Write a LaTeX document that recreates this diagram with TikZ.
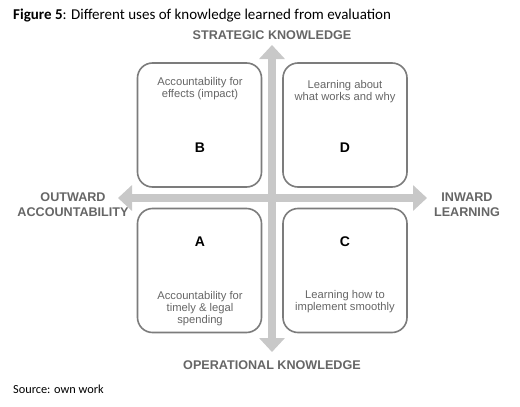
\documentclass[tikz,border=0pt]{standalone}
\usepackage{fontspec}
\setmainfont{Liberation Sans}
\newfontfamily\calibri{Carlito}
\usetikzlibrary{arrows.meta}
\definecolor{axisgray}{HTML}{C8C8C8}
\definecolor{boxgray}{HTML}{7C7C7C}
\definecolor{txtgray}{HTML}{666666}
\tikzset{
  quad/.style={draw=boxgray, line width=1.6pt, rounded corners=15pt, minimum width=124pt, minimum height=124pt, inner sep=0pt},
  axis/.style={axisgray, line width=8pt, {Triangle[width=25pt,length=14pt]}-{Triangle[width=25pt,length=14pt]}},
  axlabel/.style={font=\bfseries\fontsize{12.6}{15}\selectfont, text=txtgray, align=center, inner sep=0pt},
  boxtxt/.style={font=\fontsize{11.2}{12}\selectfont, text=txtgray, align=center, inner sep=0pt},
  letter/.style={font=\bfseries\fontsize{14}{16}\selectfont, text=black, inner sep=0pt}
}
\begin{document}
\begin{tikzpicture}[x=1pt,y=-1pt]
\useasboundingbox (0,0) rectangle (520,407);
\fill[white] (0,0) rectangle (520,407);
% title
\node[anchor=base west, inner sep=0pt, font=\calibri\fontsize{15}{18}\selectfont] (title) at (13,19) {\textbf{Figure 5}: Different uses of knowledge learned from evaluation};
% axes
\coordinate (top) at (272,45);
\coordinate (bot) at (272,352);
\coordinate (lft) at (118,198);
\coordinate (rgt) at (427,198);
\draw[axis] (bot) -- (top);
\draw[axis] (lft) -- (rgt);
% boxes
\node[quad] (B) at (199.5,125) {};
\node[quad] (D) at (345,125) {};
\node[quad] (A) at (199.5,270.5) {};
\node[quad] (C) at (345,270.5) {};
% axis labels
\node[axlabel] (strat) at (272,35) {STRATEGIC KNOWLEDGE};
\node[axlabel] (oper) at (272,365) {OPERATIONAL KNOWLEDGE};
\node[axlabel] (outw) at (73,205) {OUTWARD\\ACCOUNTABILITY};
\node[axlabel] (inw) at (467,205) {INWARD\\LEARNING};
% box texts
\node[boxtxt] (Bt) at (200,89) {Accountability for\\effects (impact)};
\node[letter] (Bl) at (200,148) {B};
\node[boxtxt] (Dt) at (345,92) {Learning about\\what works and why};
\node[letter] (Dl) at (345,148) {D};
\node[letter] (Al) at (200,242) {A};
\node[boxtxt] (At) at (200,309) {Accountability for\\timely \& legal\\spending};
\node[letter] (Cl) at (345,242) {C};
\node[boxtxt] (Ct) at (345,302) {Learning how to\\implement smoothly};
% source
\node[anchor=base west, inner sep=0pt, font=\calibri\fontsize{12.3}{14}\selectfont] (src) at (13,393) {Source: own work};
\end{tikzpicture}
\end{document}
